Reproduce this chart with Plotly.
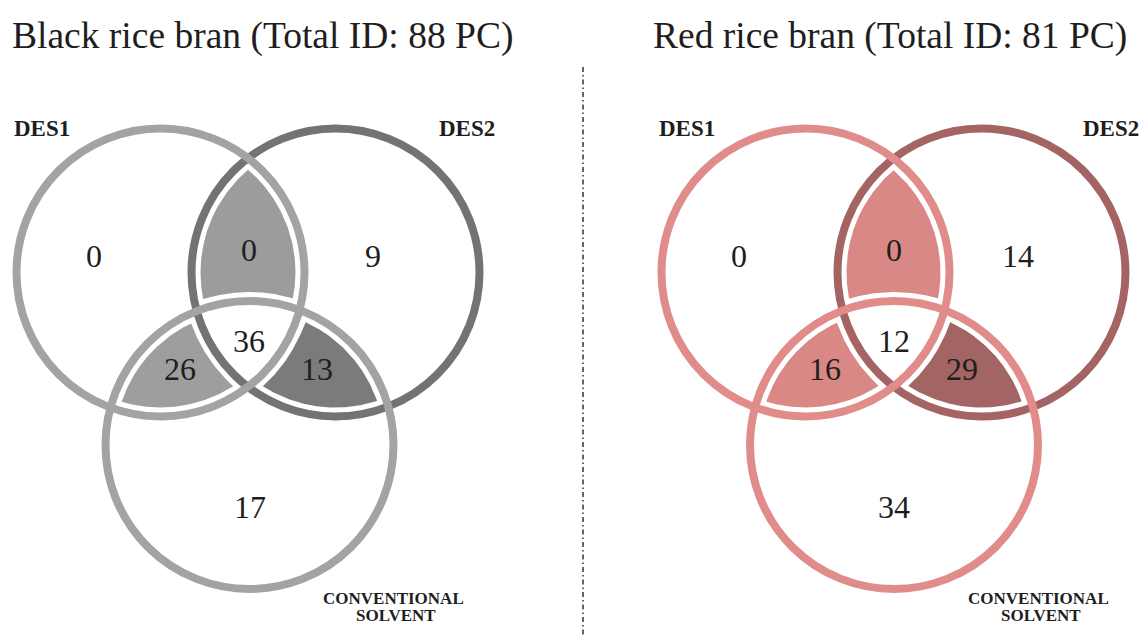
import numpy as np
import plotly.graph_objects as go

# ---------------- data ----------------
panel_names = ["Black rice bran", "Red rice bran"]
total_ids = [88, 81]
set_labels = ["DES1", "DES2", "CONVENTIONAL", "SOLVENT"]
region_keys = ["A", "B", "C", "AB", "AC", "BC", "ABC"]
black_counts = [0, 9, 17, 0, 26, 13, 36]
red_counts = [0, 14, 34, 0, 16, 29, 12]
counts = [black_counts, red_counts]

# ---------------- layout / style ----------------
W, H = 1142, 637
R = 144            # circle radius (px)
RING = 8           # ring width
GAP = 9            # inset of shaded fills from ring centre line
panel_geom = [
    {"A": (160.5, 272.5), "B": (335.5, 272.5), "C": (249.5, 445)},
    {"A": (805.5, 272.5), "B": (981.5, 272.5), "C": (894.0, 445)},
]
ring_colors = [
    {"A": "#a3a3a3", "B": "#737373", "C": "#a3a3a3"},
    {"A": "#e08c8a", "B": "#a46464", "C": "#e08c8a"},
]
fill_colors = [
    {"AB": "#9c9c9c", "AC": "#9e9e9e", "BC": "#7b7b7b"},
    {"AB": "#d98886", "AC": "#d98886", "BC": "#a36464"},
]
num_pos = [
    {"A": (94, 256), "B": (373, 256), "C": (250, 507), "AB": (249, 250),
     "AC": (180, 369), "BC": (317, 369), "ABC": (249, 341)},
    {"A": (739, 256), "B": (1018, 256), "C": (894, 507), "AB": (894, 250),
     "AC": (825, 369), "BC": (962, 369), "ABC": (894, 341)},
]
label_pos = [
    [(41.5, 128), (467, 128), (393, 598), (396, 615)],
    [(687, 128), (1111, 128), (1038, 598), (1041, 615)],
]
title_pos = [(262, 36), (890, 36)]
SERIF = "Liberation Serif, Times New Roman, serif"


def region_polygon(geom, inside, outside, d, n=3000):
    t = np.linspace(0, 2 * np.pi, n, endpoint=False)
    pts = []
    circles = [(k, R - d, True) for k in inside] + [(k, R + d, False) for k in outside]
    for k, rr, _ in circles:
        cx, cy = geom[k]
        px = cx + rr * np.cos(t)
        py = cy + rr * np.sin(t)
        ok = np.ones(n, bool)
        for k2, rr2, is_in in circles:
            if k2 == k:
                continue
            cx2, cy2 = geom[k2]
            dist = np.hypot(px - cx2, py - cy2)
            ok &= (dist <= rr2 + 1e-6) if is_in else (dist >= rr2 - 1e-6)
        pts.append(np.column_stack([px[ok], py[ok]]))
    pts = np.vstack(pts)
    c = pts.mean(axis=0)
    order = np.argsort(np.arctan2(pts[:, 1] - c[1], pts[:, 0] - c[0]))
    pts = pts[order]
    return np.append(pts[:, 0], pts[0, 0]), np.append(pts[:, 1], pts[0, 1])


fig = go.Figure()
shapes = []
annotations = []

pair_defs = {"AB": (["A", "B"], ["C"]), "AC": (["A", "C"], ["B"]), "BC": (["B", "C"], ["A"])}

for p in range(2):
    geom = panel_geom[p]
    # shaded pairwise-only regions
    for key, (ins, outs) in pair_defs.items():
        xs, ys = region_polygon(geom, ins, outs, GAP)
        fig.add_trace(go.Scatter(x=xs, y=ys, mode="lines", fill="toself",
                                 fillcolor=fill_colors[p][key], line=dict(width=0),
                                 hoverinfo="skip", showlegend=False))
    # rings
    for k in ["B", "C", "A"]:
        cx, cy = geom[k]
        shapes.append(dict(type="circle", xref="x", yref="y",
                           x0=cx - R, x1=cx + R, y0=cy - R, y1=cy + R,
                           line=dict(color=ring_colors[p][k], width=RING),
                           fillcolor="rgba(0,0,0,0)", layer="above"))
    # counts
    for key, val in zip(region_keys, counts[p]):
        x, y = num_pos[p][key]
        annotations.append(dict(x=x, y=y, xref="x", yref="y", text=str(val),
                                showarrow=False, xanchor="center", yanchor="middle",
                                font=dict(family=SERIF, size=32, color="#1e1e1e")))
    # set labels
    for lab, (x, y) in zip(set_labels, label_pos[p]):
        big = lab.startswith("DES")
        annotations.append(dict(x=x, y=y, xref="x", yref="y", text="<b>%s</b>" % lab,
                                showarrow=False, xanchor="center", yanchor="middle",
                                font=dict(family=SERIF, size=23 if big else 17,
                                          color="#1e1e1e")))
    # title
    x, y = title_pos[p]
    annotations.append(dict(x=x, y=y, xref="x", yref="y",
                            text="%s (Total ID: %d PC)" % (panel_names[p], total_ids[p]),
                            showarrow=False, xanchor="center", yanchor="middle",
                            font=dict(family=SERIF, size=37.5, color="#1e1e1e")))

# separator
shapes.append(dict(type="line", xref="x", yref="y", x0=583, x1=583, y0=67, y1=H,
                   line=dict(color="#333333", width=1.5, dash="5px,3px,1.5px,3px")))

fig.update_layout(
    width=W, height=H, margin=dict(l=0, r=0, t=0, b=0),
    paper_bgcolor="white", plot_bgcolor="white",
    xaxis=dict(range=[0, W], visible=False, fixedrange=True),
    yaxis=dict(range=[H, 0], visible=False, fixedrange=True),
    shapes=shapes, annotations=annotations, showlegend=False,
)
fig.write_html("out.html",
               config={"displayModeBar": False, "staticPlot": True},
               post_script="document.body.style.margin='0px';"
                           "document.body.style.overflow='hidden';")
